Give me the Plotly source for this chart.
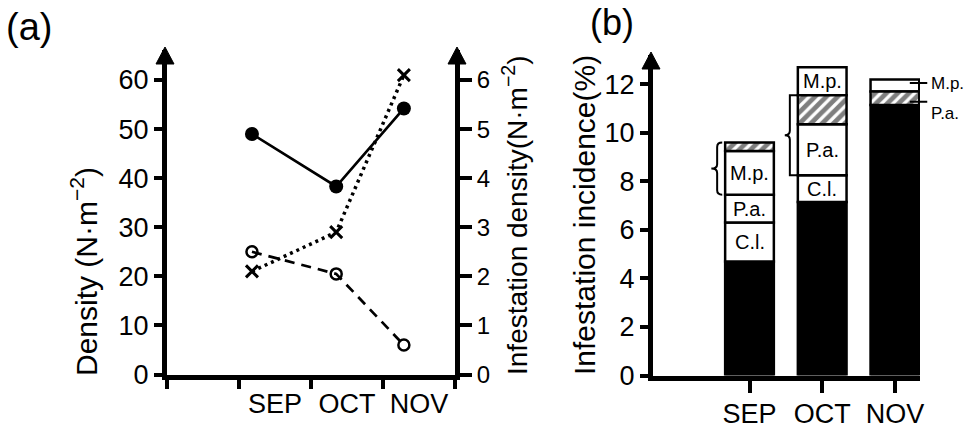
import plotly.graph_objects as go

# ---------------- data ----------------
months = ["SEP", "OCT", "NOV"]

# panel (a): sampling positions on a month scale (1 = start of SEP)
sample_pos = [1.18, 2.35, 3.29]
density_closed = [49.0, 38.3, 54.2]      # left axis, N·m-2
density_open = [25.0, 20.5, 6.0]         # left axis, N·m-2
infest_density = [2.1, 2.9, 6.1]         # right axis, N·m-2

# panel (b): stacked infestation incidence (%), bottom to top
sep_heights = [4.7, 1.6, 1.15, 1.8, 0.35]
sep_names = ["", "C.l.", "P.a.", "M.p.", ""]
oct_heights = [7.15, 1.1, 2.1, 1.2, 1.15]
oct_names = ["", "C.l.", "P.a.", "", "M.p."]
nov_heights = [11.15, 0.55, 0.5]
nov_names = ["", "P.a.", "M.p."]

left_ticks_a = [0, 10, 20, 30, 40, 50, 60]
right_ticks_a = [0, 1, 2, 3, 4, 5, 6]
ticks_b = [0, 2, 4, 6, 8, 10, 12]

# ---------------- styling ----------------
sep_kinds = ["solid", "open", "open", "open", "hatch"]
oct_kinds = ["solid", "open", "open", "hatch", "open"]
nov_kinds = ["solid", "hatch", "open"]

W, H = 971, 434
REG = "Liberation Sans, Arial, sans-serif"
BLACK = "black"
AXW = 5


def fx(px):
    return px / W


def fy(py):
    return 1 - py / H


# panel geometry (pixels)
a_left, a_right, a_bottom, a_top = 167, 455, 374.5, 50
a_scale = 4.908          # px per density unit
b_left, b_right, b_bottom, b_top = 653, 920, 375.5, 55
b_scale = 24.27          # px per percent
b_pitch = 72.7           # px between bars
b_first = 749.5          # px of first bar centre
bar_w = 0.67

fig = go.Figure()

# ---- panel (a) lines ----
fig.add_trace(go.Scatter(
    x=sample_pos, y=density_closed, mode="lines+markers",
    line=dict(color=BLACK, width=2.7),
    marker=dict(symbol="circle", size=14, color=BLACK),
    xaxis="x", yaxis="y", showlegend=False))
fig.add_trace(go.Scatter(
    x=sample_pos, y=density_open, mode="lines+markers",
    line=dict(color=BLACK, width=2.7, dash="10px,7px"),
    marker=dict(symbol="circle-open", size=11, color=BLACK, line=dict(width=2.5)),
    xaxis="x", yaxis="y", showlegend=False))
fig.add_trace(go.Scatter(
    x=sample_pos, y=infest_density, mode="lines+markers",
    line=dict(color=BLACK, width=3.5, dash="3px,4px"),
    marker=dict(symbol="x-thin", size=12, color=BLACK, line=dict(width=3, color=BLACK)),
    xaxis="x", yaxis="y2", showlegend=False))

# ---- panel (b) stacked bars ----
bars = [(1, sep_heights, sep_names, sep_kinds),
        (2, oct_heights, oct_names, oct_kinds),
        (3, nov_heights, nov_names, nov_kinds)]

groups = {"solid": ([], [], []), "open": ([], [], []), "hatch": ([], [], [])}
segments = []   # (xpos, base, top, name, kind)
for xpos, heights, names, kinds in bars:
    base = 0.0
    for h, n, k in zip(heights, names, kinds):
        gx, gb, gh = groups[k]
        gx.append(xpos)
        gb.append(base)
        gh.append(h)
        segments.append((xpos, base, base + h, n, k))
        base += h

fill_style = {
    "solid": dict(color=BLACK),
    "open": dict(color="white"),
    "hatch": dict(color="white", pattern=dict(shape="/", fgcolor=BLACK, bgcolor="white",
                                              size=8, solidity=0.6)),
}
for kind, (gx, gb, gh) in groups.items():
    fig.add_trace(go.Bar(
        x=gx, y=gh, base=gb, width=bar_w,
        marker=dict(line=dict(color=BLACK, width=2.5), **fill_style[kind]),
        xaxis="x2", yaxis="y3", showlegend=False, hoverinfo="skip"))

annotations = []
shapes = []

# labels inside SEP and OCT bars
for xpos, lo, hi, name, kind in segments:
    if name and xpos in (1, 2):
        annotations.append(dict(
            x=xpos, y=(lo + hi) / 2, xref="x2", yref="y3", text=name, showarrow=False,
            xanchor="center", yanchor="middle",
            font=dict(family=REG, size=20, color=BLACK)))

# NOV labels with leader lines (placed right of the plotting area)
b_xmin = (b_left - b_first) / b_pitch + 1
b_xmax = (b_right - b_first) / b_pitch + 1


def bx_paper(v):
    return fx(b_left + (v - b_xmin) * b_pitch)


nov_x_right = 3 + bar_w / 2
for xpos, lo, hi, name, kind in segments:
    if xpos == 3 and name:
        mid = (lo + hi) / 2
        ly = mid + (0.1 if name == "M.p." else -0.15)
        shapes.append(dict(type="line", xref="paper", yref="y3",
                           x0=bx_paper(nov_x_right - 0.13), x1=bx_paper(nov_x_right + 0.11),
                           y0=ly, y1=ly, line=dict(color=BLACK, width=2)))
        annotations.append(dict(
            x=bx_paper(nov_x_right + 0.13), y=ly if name == "M.p." else ly - 0.5,
            xref="paper", yref="y3", text=name, showarrow=False,
            xanchor="left", yanchor="middle",
            font=dict(family=REG, size=17, color=BLACK)))

# brace grouping hatched + M.p. on SEP
sep_top = sum(sep_heights)
sep_lo = sum(sep_heights[:3])
xl = 1 - bar_w / 2
xe, xv, xn = xl - 0.04, xl - 0.11, xl - 0.19
ym = (sep_top + sep_lo) / 2
d = 0.18
shapes.append(dict(
    type="path", xref="x2", yref="y3",
    path=(f"M {xe} {sep_top} Q {xv} {sep_top} {xv} {sep_top - d} L {xv} {ym + d} "
          f"Q {xv} {ym} {xn} {ym} Q {xv} {ym} {xv} {ym - d} L {xv} {sep_lo + d} "
          f"Q {xv} {sep_lo} {xe} {sep_lo}"),
    line=dict(color=BLACK, width=2)))

# bracket grouping P.a. + hatched on OCT
oct_lo = sum(oct_heights[:2])
oct_hi = sum(oct_heights[:4])
xl = 2 - bar_w / 2
xe, xv, xn = xl - 0.01, xl - 0.11, xl - 0.18
ym = (oct_lo + oct_hi) / 2
shapes.append(dict(
    type="path", xref="x2", yref="y3",
    path=(f"M {xe} {oct_hi} L {xv} {oct_hi} L {xv} {ym + d} Q {xv} {ym} {xn} {ym} "
          f"Q {xv} {ym} {xv} {ym - d} L {xv} {oct_lo} L {xe} {oct_lo}"),
    line=dict(color=BLACK, width=2)))


# axis arrowheads
def arrow(xc, ytip):
    return dict(type="path", xref="paper", yref="paper",
                path=(f"M {fx(xc - 9)} {fy(ytip + 17)} L {fx(xc)} {fy(ytip)} "
                      f"L {fx(xc + 9)} {fy(ytip + 17)} Z"),
                fillcolor=BLACK, line=dict(color=BLACK, width=1))


shapes += [arrow(a_left - 2, a_top - 3), arrow(a_right + 2, a_top - 3), arrow(b_left - 2, b_top - 3)]

# axis titles and panel letters
centred = dict(xref="paper", yref="paper", showarrow=False, xanchor="center", yanchor="middle")
annotations += [
    dict(x=fx(84), y=fy(272), textangle=-90, **centred,
         text="Density (N·m<sup>−2</sup>)", font=dict(family=REG, size=30, color=BLACK)),
    dict(x=fx(515), y=fy(215), textangle=-90, **centred,
         text="Infestation density(N·m<sup>−2</sup>)", font=dict(family=REG, size=28, color=BLACK)),
    dict(x=fx(584), y=fy(215), textangle=-90, **centred,
         text="Infestation incidence(%)", font=dict(family=REG, size=30, color=BLACK)),
    dict(x=fx(29), y=fy(27), **centred,
         text="(a)", font=dict(family=REG, size=38, color=BLACK)),
    dict(x=fx(612), y=1, xref="paper", yref="paper", showarrow=False,
         xanchor="center", yanchor="top",
         text="(b)", font=dict(family=REG, size=36, color=BLACK)),
]

axis_common = dict(showline=True, linecolor=BLACK, linewidth=AXW, showgrid=False,
                   zeroline=False, tickcolor=BLACK, ticks="outside", automargin=False)

a_ymax = (a_bottom - a_top) / a_scale
b_ymax = (b_bottom - b_top) / b_scale

fig.update_layout(
    width=W, height=H, autosize=False,
    margin=dict(l=0, r=0, t=0, b=0, pad=0),
    paper_bgcolor="white", plot_bgcolor="rgba(0,0,0,0)",
    barmode="overlay",
    xaxis=dict(**{**axis_common, "ticks": ""}, domain=[fx(a_left), fx(a_right)], range=[0, 4],
               anchor="y", tickmode="array", tickvals=[1.5, 2.5, 3.5], ticktext=months,
               minor=dict(tickmode="array", tickvals=[0, 1, 2, 3, 4], ticks="outside",
                          ticklen=9, tickwidth=4, tickcolor=BLACK),
               tickfont=dict(family=REG, size=27, color=BLACK), ticklabelstandoff=1),
    yaxis=dict(**axis_common, domain=[fy(a_bottom), fy(a_top)], range=[0, a_ymax],
               anchor="x", tickmode="array", tickvals=left_ticks_a, ticklen=8, tickwidth=4,
               tickfont=dict(family=REG, size=27, color=BLACK)),
    yaxis2=dict(**axis_common, domain=[fy(a_bottom), fy(a_top)], range=[0, a_ymax / 10],
                anchor="x", overlaying="y", side="right", tickmode="array",
                tickvals=right_ticks_a, ticklen=12, tickwidth=4,
                tickfont=dict(family=REG, size=24, color=BLACK)),
    xaxis2=dict(**axis_common, domain=[fx(b_left), fx(b_right)], range=[b_xmin, b_xmax],
                anchor="y3", tickmode="array", tickvals=[1, 2, 3], ticktext=months,
                ticklen=12, tickwidth=4, ticklabelstandoff=-2,
                tickfont=dict(family=REG, size=27, color=BLACK)),
    yaxis3=dict(**axis_common, domain=[fy(b_bottom), fy(b_top)], range=[0, b_ymax],
                anchor="x2", tickmode="array", tickvals=ticks_b, ticklen=8, tickwidth=4,
                tickfont=dict(family=REG, size=27, color=BLACK)),
    annotations=annotations,
    shapes=shapes,
)

fig.write_html("out.html")
